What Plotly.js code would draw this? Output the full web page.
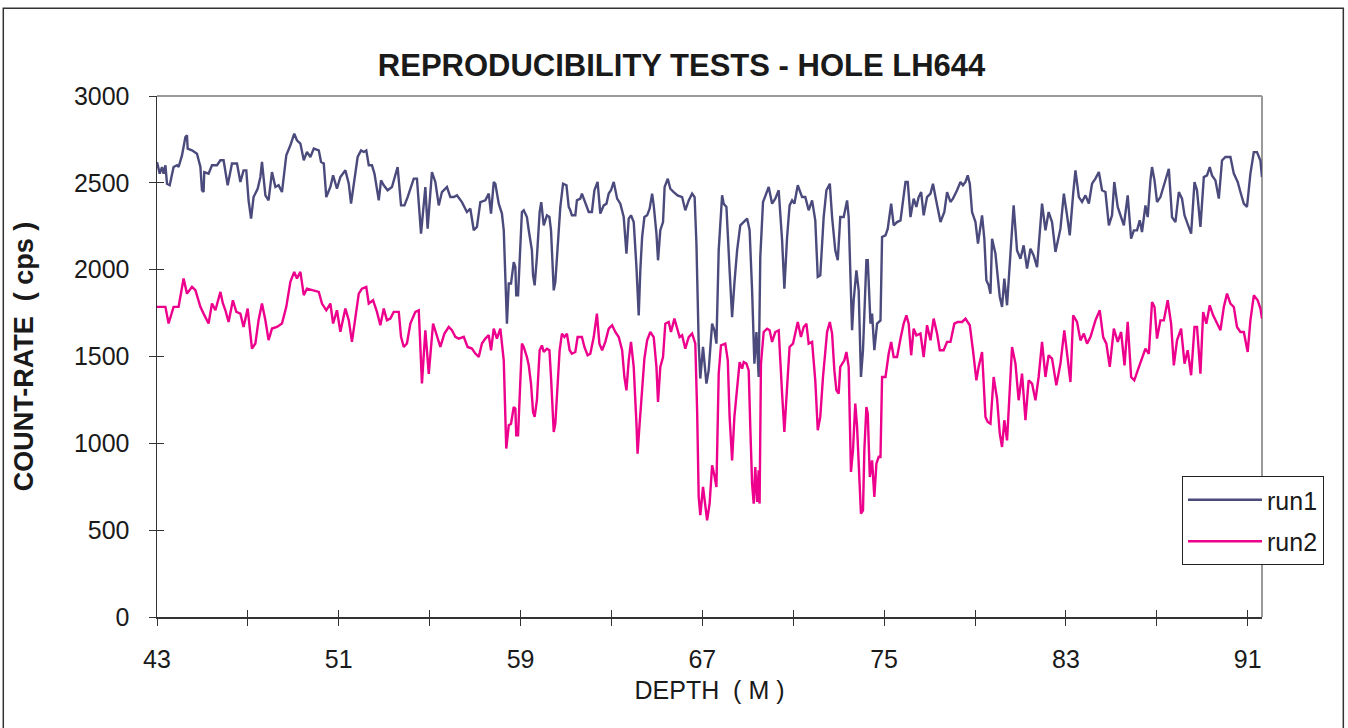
<!DOCTYPE html>
<html>
<head>
<meta charset="utf-8">
<script src="https://cdn.plot.ly/plotly-3.0.1.min.js"></script>
<style>html,body{margin:0;padding:0;background:#fff;}#chart{width:1348px;height:728px;}</style>
</head>
<body>
<div id="chart"></div>
<script>
// ---- data ----
const run1Depth = [
43.00,43.12,43.22,43.29,43.37,43.44,43.56,43.73,43.88,43.95,
44.10,44.25,44.32,44.35,44.54,44.76,44.91,44.98,45.05,45.08,
45.27,45.42,45.64,45.79,45.93,46.11,46.30,46.52,46.67,46.81,
46.93,47.03,47.14,47.25,47.43,47.55,47.62,47.77,47.91,48.06,
48.21,48.35,48.50,48.69,48.87,49.04,49.16,49.31,49.46,49.60,
49.75,49.90,50.12,50.22,50.34,50.45,50.63,50.75,50.92,51.07,
51.29,51.44,51.54,51.69,51.83,51.98,52.10,52.21,52.32,52.46,
52.57,52.76,52.86,52.98,53.15,53.34,53.49,53.59,53.74,53.89,
54.03,54.30,54.44,54.62,54.81,54.91,55.10,55.25,55.40,55.54,
55.76,55.91,56.06,56.20,56.42,56.64,56.79,56.94,57.08,57.23,
57.45,57.60,57.70,57.82,57.89,58.04,58.18,58.26,
58.40,58.48,58.58,58.70,58.77,58.81,58.89,58.99,59.06,59.14,
59.28,59.36,59.50,59.55,59.62,59.72,59.84,59.91,60.02,60.16,
60.27,60.34,60.46,60.53,60.63,60.75,60.87,61.02,61.12,61.19,
61.26,61.41,61.48,61.63,61.70,61.81,62.00,62.14,62.25,62.39,
62.51,62.66,62.78,62.88,62.98,63.10,63.25,63.39,63.54,63.66,
63.76,63.86,63.98,64.10,64.20,64.27,64.35,64.45,64.57,64.68,
64.79,64.86,64.98,65.05,65.15,65.27,65.34,65.48,65.59,65.74,
65.91,66.11,66.25,66.40,66.55,66.66,66.74,66.84,66.91,67.03,
67.18,67.28,67.43,67.53,67.62,67.72,67.87,67.94,68.06,68.20,
68.31,68.41,68.53,68.67,68.82,68.97,69.08,69.19,69.29,69.38,
69.48,69.55,69.67,69.82,69.92,70.07,70.21,70.36,70.51,70.61,
70.73,70.84,70.95,71.05,71.20,71.39,71.53,71.68,71.83,71.97,
72.08,72.19,72.34,72.46,72.61,72.71,72.85,72.96,73.07,73.22,
73.37,73.44,73.51,73.59,73.66,73.78,73.88,73.98,74.07,74.22,
74.28,74.40,74.47,74.57,74.69,
74.84,74.91,75.06,75.16,75.31,75.42,75.57,75.72,75.83,75.94,
76.04,76.16,76.30,76.42,76.52,76.63,76.74,76.89,77.04,77.15,
77.26,77.36,77.48,77.65,77.77,77.92,78.03,78.21,78.36,78.47,
78.58,78.68,78.77,78.87,79.02,79.13,79.31,79.41,79.50,79.60,
79.68,79.75,79.90,80.00,80.09,80.19,80.29,80.41,80.56,80.70,
80.85,81.00,81.14,81.29,81.44,81.58,81.73,81.85,81.95,82.10,
82.24,82.39,82.54,82.76,82.91,83.05,83.17,83.32,83.42,83.57,
83.71,83.86,84.01,84.15,84.30,84.45,84.59,84.74,84.89,85.03,
85.13,85.28,85.43,85.55,85.72,85.87,85.99,86.13,86.25,86.35,
86.50,86.60,86.72,86.79,86.90,87.01,87.16,87.28,87.42,87.53,
87.67,87.82,87.97,88.11,88.22,88.33,88.51,88.66,88.77,88.92,
89.07,89.21,89.33,89.43,89.58,89.73,89.87,90.02,90.24,90.39,
90.56,90.68,90.83,90.97,91.12,91.27,91.41,91.56,91.63
];
const run1Count = [
2620,2553,2591,2553,2601,2495,2486,2591,2601,2591,
2658,2764,2774,2697,2687,2668,2591,2457,2447,2562,
2553,2601,2601,2630,2630,2486,2611,2611,2505,2572,
2572,2399,2294,2418,2466,2534,2620,2428,2399,2562,
2476,2486,2447,2658,2716,2783,2745,2726,2630,2678,
2649,2697,2687,2620,2611,2418,2476,2543,2466,2534,
2572,2495,2380,2534,2649,2687,2678,2687,2601,2601,
2553,2399,2514,2486,2457,2476,2553,2591,2370,2370,
2418,2524,2524,2208,2476,2236,2562,2505,2370,2447,
2476,2418,2418,2428,2389,2332,2351,2227,2246,2389,
2399,2438,2323,2505,2495,2380,2323,2227,
1689,1920,1920,2044,2015,1852,1852,2121,2332,2342,
2303,2227,2111,1967,1910,2073,2332,2389,2255,2313,
2303,2227,1881,1929,2121,2361,2495,2486,2361,2342,
2313,2313,2399,2409,2438,2399,2332,2332,2457,2505,
2323,2370,2380,2438,2457,2505,2409,2380,2303,2092,
2294,2313,2274,2015,1737,1996,2188,2303,2313,2351,
2438,2370,2208,2054,2227,2274,2476,2524,2466,2447,
2428,2418,2342,2399,2438,2418,2150,1574,1373,1555,
1344,1421,1689,1651,1574,2111,2428,2380,2361,1996,
1727,1920,2111,2255,2274,2294,2227,1881,1459,1641,
1382,2073,2389,2438,2476,2380,2409,2457,2169,1891,
2188,2370,2399,2380,2486,2418,2418,2342,2399,2284,
1958,1967,2303,2457,2495,2303,2111,2054,2303,2303,
2399,2303,1920,1651,1824,1996,1881,1382,1536,2054,
2054,1689,1747,1536,1689,
1708,2188,2198,2236,2380,2255,2274,2284,2399,2505,
2505,2303,2409,2361,2418,2447,2313,2418,2438,2495,
2418,2361,2274,2332,2447,2390,2409,2457,2505,2486,
2505,2543,2495,2332,2274,2150,2313,2178,1939,1910,
1862,2178,2092,1958,1843,1785,1948,1795,2092,2370,
2111,2063,2140,2006,2121,2082,2015,2246,2380,2226,
2332,2274,2102,2236,2438,2313,2198,2438,2572,2418,
2390,2428,2380,2495,2524,2562,2457,2447,2255,2313,
2505,2361,2303,2255,2428,2178,2226,2226,2284,2217,
2370,2303,2514,2591,2514,2390,2418,2476,2543,2581,
2303,2274,2447,2409,2313,2274,2207,2505,2457,2246,
2533,2543,2591,2543,2514,2409,2629,2649,2649,2553,
2505,2447,2380,2361,2553,2677,2677,2629,2533
];

const run2Depth = [
43.00,43.15,43.37,43.51,43.73,43.95,44.17,44.32,44.54,44.69,
44.91,45.05,45.27,45.42,45.57,45.79,45.90,46.01,46.15,46.34,
46.49,46.67,46.81,46.99,47.11,47.18,47.33,47.47,47.62,47.77,
47.91,48.06,48.28,48.50,48.69,48.87,49.04,49.16,49.31,49.46,
49.60,49.90,50.12,50.26,50.45,50.63,50.75,50.92,51.07,51.29,
51.44,51.58,51.73,51.88,52.02,52.21,52.32,52.51,52.68,52.83,
52.98,53.12,53.27,53.42,53.64,53.74,53.86,54.00,54.15,54.37,
54.52,54.66,54.81,54.96,55.15,55.32,55.47,55.65,55.84,55.98,
56.13,56.28,56.50,56.67,56.86,57.01,57.16,57.30,57.45,57.60,
57.70,57.82,57.96,58.11,58.26,
58.37,58.48,58.58,58.70,58.77,58.81,58.89,58.99,59.06,59.14,
59.28,59.36,59.46,59.55,59.62,59.72,59.84,59.94,60.02,60.16,
60.27,60.34,60.46,60.53,60.63,60.72,60.82,60.93,61.04,61.16,
61.26,61.41,61.51,61.70,61.81,61.95,62.07,62.22,62.36,62.47,
62.59,62.73,62.88,63.03,63.17,63.32,63.47,63.57,63.66,63.76,
63.86,63.98,64.10,64.15,64.24,64.35,64.45,64.57,64.71,64.86,
64.98,65.05,65.15,65.27,65.37,65.52,65.62,65.77,65.89,66.00,
66.11,66.25,66.40,66.55,66.69,66.77,66.84,66.91,67.03,67.09,
67.21,67.32,67.43,67.53,67.62,67.72,67.82,68.01,68.12,68.20,
68.31,68.41,68.53,68.64,68.75,68.82,68.94,69.04,69.11,69.19,
69.26,69.33,69.41,69.48,69.52,69.58,69.70,69.85,69.96,70.07,
70.21,70.36,70.51,70.61,70.73,70.84,70.99,71.09,71.20,71.34,
71.46,71.58,71.68,71.83,71.97,72.08,72.19,72.31,72.49,72.61,
72.71,72.81,72.90,73.00,73.07,73.25,73.34,73.44,73.54,73.63,
73.73,73.81,73.93,73.98,74.07,74.13,74.22,74.28,74.37,74.47,
74.57,74.66,74.76,
74.84,74.91,75.06,75.20,75.31,75.42,75.57,75.72,75.86,75.98,
76.08,76.19,76.30,76.42,76.60,76.74,76.89,77.04,77.18,77.33,
77.45,77.62,77.77,77.92,78.09,78.24,78.43,78.58,78.77,78.91,
79.06,79.16,79.31,79.46,79.56,79.68,79.82,79.97,80.09,80.19,
80.29,80.41,80.53,80.63,80.78,80.92,81.07,81.22,81.36,81.51,
81.66,81.80,81.95,82.10,82.24,82.39,82.58,82.76,82.93,83.08,
83.20,83.32,83.49,83.64,83.79,83.93,84.08,84.30,84.49,84.64,
84.78,84.93,85.11,85.28,85.43,85.58,85.72,85.87,86.01,86.16,
86.35,86.50,86.65,86.79,86.90,87.01,87.16,87.31,87.48,87.63,
87.75,87.89,88.07,88.22,88.36,88.51,88.66,88.77,88.92,89.04,
89.18,89.33,89.48,89.65,89.80,89.95,90.09,90.24,90.39,90.53,
90.68,90.83,91.00,91.12,91.27,91.44,91.56,91.63
];
const run2Count = [
1786,1786,1786,1690,1786,1786,1949,1862,1901,1882,
1786,1747,1690,1805,1766,1872,1805,1766,1699,1824,
1757,1747,1670,1776,1651,1546,1575,1709,1805,1709,
1594,1661,1670,1690,1786,1930,1987,1949,1987,1853,
1891,1882,1872,1805,1766,1805,1690,1766,1642,1776,
1709,1584,1728,1862,1891,1901,1805,1824,1757,1680,
1776,1709,1718,1757,1757,1613,1555,1575,1690,1757,
1766,1345,1651,1400,1690,1613,1555,1632,1670,1651,
1613,1603,1613,1555,1546,1517,1498,1575,1603,1623,
1536,1661,1603,1661,1478,
970,1104,1113,1209,1200,1046,1046,1344,1574,1555,
1497,1449,1344,1181,1152,1248,1536,1564,1526,1545,
1536,1382,1065,1113,1325,1536,1632,1612,1632,1536,
1516,1526,1612,1612,1555,1507,1516,1612,1747,1574,
1536,1584,1660,1680,1641,1612,1536,1382,1305,1478,
1584,1440,1113,941,1113,1305,1488,1593,1641,1612,
1440,1238,1440,1497,1689,1699,1641,1718,1660,1612,
1622,1545,1612,1632,1574,1190,691,586,749,672,
557,653,874,816,749,1401,1564,1574,1478,1152,
902,1152,1344,1468,1430,1468,1459,1420,1094,768,
653,864,662,845,653,1459,1641,1660,1651,1584,
1641,1651,1286,1065,1325,1555,1574,1641,1699,1612,
1670,1689,1574,1584,1363,1075,1152,1382,1641,1699,
1632,1420,1305,1286,1440,1478,1526,1440,835,960,
1229,1094,682,595,614,960,1209,1171,806,902,
691,883,922,
921,1382,1382,1516,1584,1497,1497,1603,1689,1737,
1689,1507,1660,1622,1632,1497,1680,1593,1718,1632,
1536,1536,1584,1584,1689,1699,1699,1718,1680,1536,
1363,1440,1526,1152,1123,1113,1382,1257,1056,979,
1133,1017,1286,1555,1459,1248,1401,1133,1363,1344,
1248,1382,1584,1382,1507,1488,1334,1459,1651,1488,
1353,1737,1699,1593,1632,1574,1612,1708,1766,1612,
1574,1440,1660,1584,1641,1449,1699,1382,1363,1420,
1497,1545,1516,1814,1785,1603,1708,1708,1824,1689,
1449,1593,1660,1459,1536,1392,1670,1670,1401,1756,
1689,1795,1737,1689,1651,1785,1862,1804,1785,1670,
1641,1641,1526,1708,1852,1824,1776,1718
];

const seriesNames = ["run1", "run2"];
const seriesColors = ["#4b4a7c", "#ec008c"];
const xTickVals = [43, 51, 59, 67, 75, 83, 91];
const xMinorVals = [47, 55, 63, 71, 79, 87];
const xAllTicks = [43, 47, 51, 55, 59, 63, 67, 71, 75, 79, 83, 87, 91];
const xRange = [43, 91.63];
const yRange = [0, 3000];

const FONT = "Liberation Sans, Arial, sans-serif";

const traces = [
  {type: "scatter", mode: "lines", name: seriesNames[0], x: run1Depth, y: run1Count,
   line: {color: seriesColors[0], width: 2.4}, legendgroup: "a"},
  {type: "scatter", mode: "lines", name: seriesNames[1], x: run2Depth, y: run2Count,
   line: {color: seriesColors[1], width: 2.4}, legendgroup: "b"},
  {type: "scatter", mode: "lines", x: [], y: [], xaxis: "x2", yaxis: "y2", showlegend: false, hoverinfo: "skip"}
];

const layout = {
  width: 1348, height: 728,
  paper_bgcolor: "#ffffff", plot_bgcolor: "#ffffff",
  margin: {l: 157, r: 86, t: 96, b: 111, pad: 0},
  font: {family: FONT, color: "#1a1a1a"},
  showlegend: true,
  title: {
    text: "REPRODUCIBILITY TESTS - HOLE LH644",
    font: {family: FONT, size: 31, color: "#1a1a1a", weight: "bold"},
    xref: "container", x: 0.5056, xanchor: "center",
    yref: "container", y: 0.911, yanchor: "middle"
  },
  xaxis: {
    range: xRange, tickmode: "array", tickvals: xTickVals,
    ticks: "outside", ticklen: 7, tickwidth: 1, tickcolor: "#333",
    minor: {tickmode: "array", tickvals: xMinorVals, ticks: "outside", ticklen: 7, tickwidth: 1, tickcolor: "#333", showgrid: false},
    showline: true, linecolor: "#333", linewidth: 1.5,
    showgrid: false, zeroline: false,
    tickfont: {family: FONT, size: 25, color: "#1a1a1a"},
    ticklabelstandoff: 12,
    title: {text: "DEPTH&nbsp; ( M )", font: {family: FONT, size: 25, color: "#1a1a1a"}, standoff: 10},
    automargin: false
  },
  yaxis: {
    range: yRange, tickmode: "linear", tick0: 0, dtick: 500,
    ticks: "outside", ticklen: 7, tickwidth: 1, tickcolor: "#333",
    showline: true, linecolor: "#333", linewidth: 1.5,
    showgrid: false, zeroline: false,
    tickfont: {family: FONT, size: 25, color: "#1a1a1a"},
    ticklabelstandoff: 14,
    title: {text: "COUNT-RATE&nbsp; ( cps )", font: {family: FONT, size: 27, color: "#1a1a1a", weight: "bold"}, standoff: 32},
    automargin: false
  },
  xaxis2: {
    overlaying: "x", anchor: "y2", range: xRange, tickmode: "array", tickvals: xAllTicks,
    ticks: "inside", ticklen: 7, tickwidth: 1, tickcolor: "#333",
    showticklabels: false, showline: false, showgrid: false, zeroline: false
  },
  yaxis2: {
    overlaying: "y", anchor: "x2", range: yRange, tickmode: "linear", tick0: 0, dtick: 500,
    ticks: "inside", ticklen: 7, tickwidth: 1, tickcolor: "#333",
    showticklabels: false, showline: false, showgrid: false, zeroline: false
  },
  legend: {
    x: 0.9276, y: 0.2706, xanchor: "left", yanchor: "top",
    bgcolor: "#ffffff", bordercolor: "#222", borderwidth: 1,
    font: {family: FONT, size: 25, color: "#1a1a1a"},
    traceorder: "grouped", tracegroupgap: 6, itemwidth: 74
  },
  shapes: [
    {type: "line", xref: "paper", yref: "paper", x0: 0, x1: 1, y0: 1, y1: 1, line: {color: "#9a9a9a", width: 2}, layer: "below"},
    {type: "line", xref: "paper", yref: "paper", x0: 1, x1: 1, y0: 0, y1: 1, line: {color: "#9a9a9a", width: 2}, layer: "below"},
    {type: "rect", xref: "paper", yref: "paper", x0: -0.1391, x1: 1.0736, y0: -0.23, y1: 1.1683, line: {color: "#333", width: 1.5}, fillcolor: "rgba(0,0,0,0)", layer: "below"}
  ]
};

Plotly.newPlot("chart", traces, layout, {displayModeBar: false, staticPlot: true});
</script>
</body>
</html>
